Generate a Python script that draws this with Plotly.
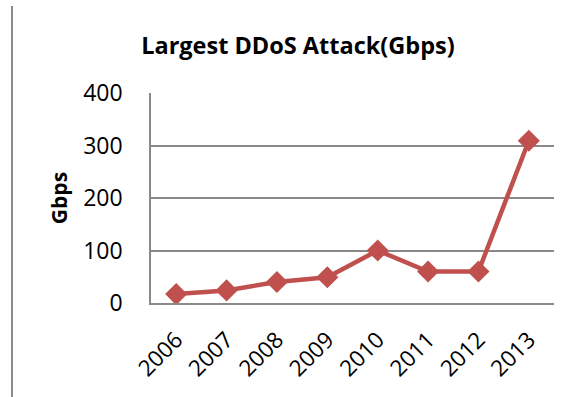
import plotly.graph_objects as go

years = ["2006", "2007", "2008", "2009", "2010", "2011", "2012", "2013"]
gbps = [17, 24, 40, 49, 100, 60, 60, 309]
y_ticks = [0, 100, 200, 300, 400]

FONT = "Open Sans"
RED = "#C0504D"
GRID = "#898989"

fig = go.Figure()
fig.add_trace(go.Scatter(
    x=years, y=gbps, mode="lines+markers",
    line=dict(color=RED, width=4.5),
    marker=dict(symbol="diamond", size=17, color=RED),
    showlegend=False, cliponaxis=False,
))

fig.update_layout(
    width=573, height=397,
    margin=dict(l=151, r=19, t=93, b=94),
    paper_bgcolor="white", plot_bgcolor="white",
    title=dict(text="<b>Largest DDoS Attack(Gbps)</b>",
               font=dict(family=FONT, size=23.5, color="black"),
               x=0.52, xanchor="center", y=0.885, yanchor="middle"),
    font=dict(family=FONT, color="black"),
    xaxis=dict(
        type="category", tickangle=-45,
        tickfont=dict(family=FONT, size=22.5, color="black"),
        showgrid=False, showline=True, linecolor=GRID, linewidth=1.5,
        ticks="", ticklabelstandoff=13,
        range=[-0.5, 7.5],
    ),
    yaxis=dict(
        range=[0, 400], tickvals=y_ticks,
        tickfont=dict(family=FONT, size=23, color="black"),
        showgrid=True, gridcolor=GRID, gridwidth=1.5,
        showline=True, linecolor=GRID, linewidth=1.5,
        zeroline=False, ticks="", ticklabelstandoff=22,
        title=dict(text="<b>Gbps</b>", font=dict(family=FONT, size=21, color="black"),
                   standoff=10),
    ),
)

# Thin vertical rule along the left edge of the page
fig.add_shape(type="line", xref="paper", yref="paper",
              x0=-151 / 403 + 12 / 403, x1=-151 / 403 + 12 / 403,
              y0=-94 / 210, y1=(397 - 6 - 94) / 210,
              line=dict(color="#8C8C8C", width=2))

fig.write_html("out.html")
